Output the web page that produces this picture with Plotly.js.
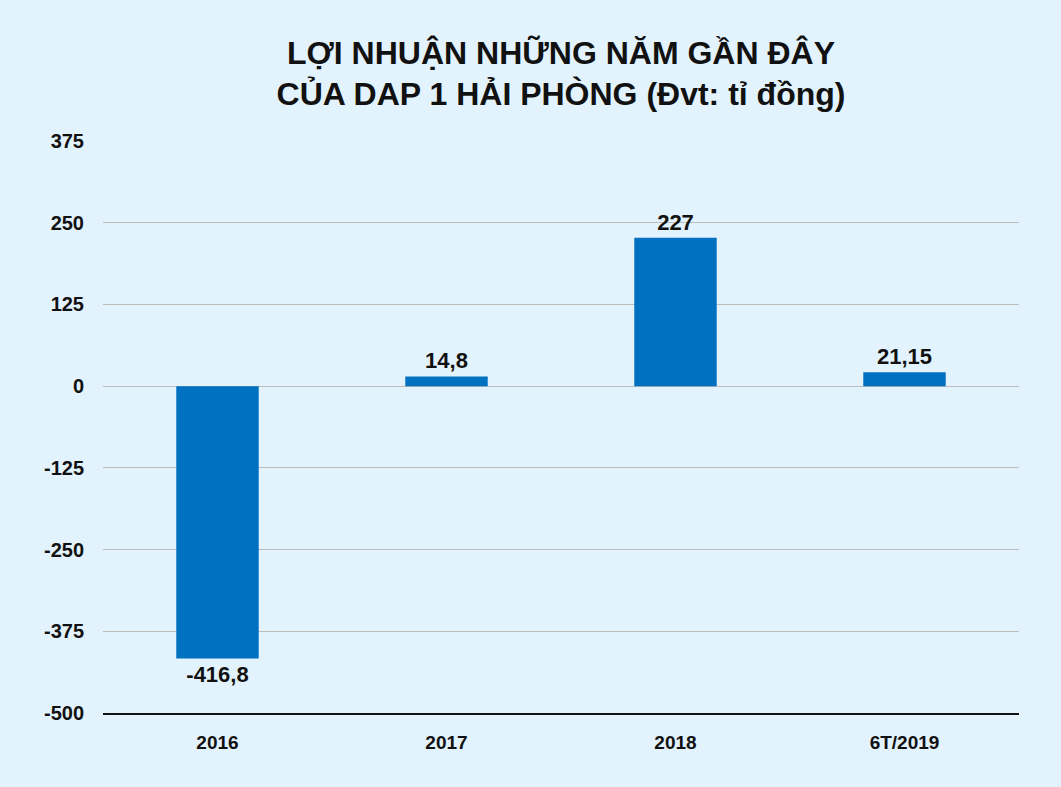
<!DOCTYPE html>
<html>
<head>
<meta charset="utf-8">
<script src="https://cdn.plot.ly/plotly-3.0.1.min.js"></script>
<style>
  html, body { margin: 0; padding: 0; background: #E3F3FD; }
  #chart { width: 1061px; height: 787px; }
</style>
</head>
<body>
<div id="chart"></div>
<script>
// profit by period, billion VND
var periods = ['2016', '2017', '2018', '6T/2019'];
var profits = [-416.8, 14.8, 227, 21.15];
var yTicks = [-500, -375, -250, -125, 0, 125, 250, 375];

var labels = profits.map(function (v) { return String(v).replace('.', ','); });
var yTickText = yTicks.map(function (v) { return String(v); });   // keep plain hyphen

var fontName = 'Liberation Sans, Arial, sans-serif';

var trace = {
    type: 'bar',
    x: periods,
    y: profits,
    text: labels,
    textposition: 'outside',
    cliponaxis: false,
    textfont: { family: fontName, size: 22, color: '#111', weight: 'bold' },
    marker: { color: '#0070C0' },
    hoverinfo: 'none'
};

var layout = {
    width: 1061,
    height: 787,
    paper_bgcolor: '#E3F3FD',
    plot_bgcolor: '#E3F3FD',
    showlegend: false,
    bargap: 0.64,
    margin: { l: 103, r: 42, t: 141, b: 74, pad: 0 },
    title: {
        text: '<b>LỢI NHUẬN NHỮNG NĂM GẦN ĐÂY<br>CỦA DAP 1 HẢI PHÒNG (Đvt: tỉ đồng)</b>',
        font: { family: fontName, size: 32, color: '#111' },
        xref: 'paper',
        x: 0.5,
        xanchor: 'center',
        y: 0.919,
        yanchor: 'top'
    },
    xaxis: {
        type: 'category',
        showgrid: false,
        showline: true,
        linecolor: '#111',
        linewidth: 1.5,
        ticks: '',
        ticklabelstandoff: 12,
        tickfont: { family: fontName, size: 19, color: '#111', weight: 'bold' }
    },
    yaxis: {
        range: [-500, 375],
        tickvals: yTicks,
        ticktext: yTickText,
        showgrid: true,
        gridcolor: '#BDBDBD',
        gridwidth: 1,
        zeroline: true,
        zerolinecolor: '#BDBDBD',
        zerolinewidth: 1,
        showline: false,
        ticks: '',
        ticklabelstandoff: 18,
        tickfont: { family: fontName, size: 20, color: '#111', weight: 'bold' }
    }
};

Plotly.newPlot('chart', [trace], layout, { displayModeBar: false, staticPlot: true });
</script>
</body>
</html>
